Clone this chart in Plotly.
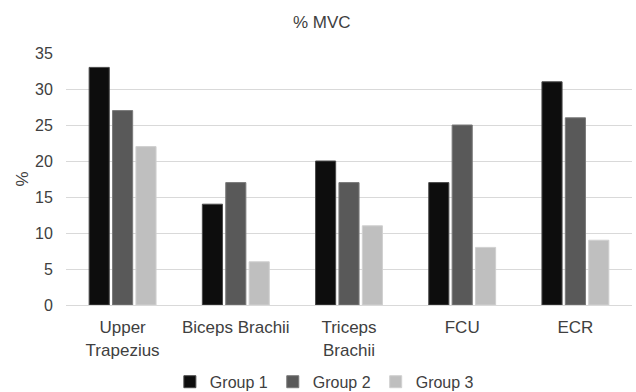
import plotly.graph_objects as go

categories = ["Upper<br>Trapezius", "Biceps Brachii", "Triceps<br>Brachii", "FCU", "ECR"]
group1 = [33, 14, 20, 17, 31]
group2 = [27, 17, 17, 25, 26]
group3 = [22, 6, 11, 8, 9]
series_names = ["Group 1", "Group 2", "Group 3"]
colors = ["#0d0d0d", "#595959", "#bfbfbf"]
outlines = ["#4a4a4a", "#7a7a7a", "#d0d0d0"]

fig = go.Figure()
for name, vals, c, oc in zip(series_names, [group1, group2, group3], colors, outlines):
    fig.add_trace(go.Bar(x=categories, y=vals, name=name,
                         marker=dict(color=c, line=dict(color=oc, width=1))))

font_family = "Liberation Sans, Arial, sans-serif"
txt = "#404040"
fig.update_layout(
    width=636, height=392,
    margin=dict(l=66, r=4, t=53, b=87, autoexpand=False),
    paper_bgcolor="white", plot_bgcolor="white",
    barmode="group", bargap=0.38, bargroupgap=0.14,
    font=dict(family=font_family, size=16, color=txt),
    title=dict(text="% MVC", xref="container", x=0.506, xanchor="center",
               yref="container", y=0.944, yanchor="middle",
               font=dict(size=17, color=txt)),
    showlegend=True,
    legend=dict(orientation="h", xref="container", x=0.51, xanchor="center",
                yref="container", y=0.026, yanchor="middle",
                font=dict(size=16, color=txt), traceorder="normal",
                itemwidth=30, tracegroupgap=0, bgcolor="rgba(0,0,0,0)"),
    xaxis=dict(showgrid=False, showline=True, linecolor="#d9d9d9", linewidth=1,
               ticks="", ticklabelstandoff=7, automargin=False,
               tickfont=dict(size=17, color=txt)),
    yaxis=dict(range=[0, 35], dtick=5, showgrid=True, gridcolor="#d9d9d9", gridwidth=1,
               zeroline=False, showline=False, ticks="outside", ticklen=9,
               tickcolor="rgba(0,0,0,0)",
               automargin=False, tickfont=dict(size=16, color=txt),
               title=dict(text="%", font=dict(size=17, color=txt), standoff=2)),
)

fig.write_html("out.html", config={"displayModeBar": False},
               post_script="document.body.style.margin='0';document.body.style.overflow='hidden';")
